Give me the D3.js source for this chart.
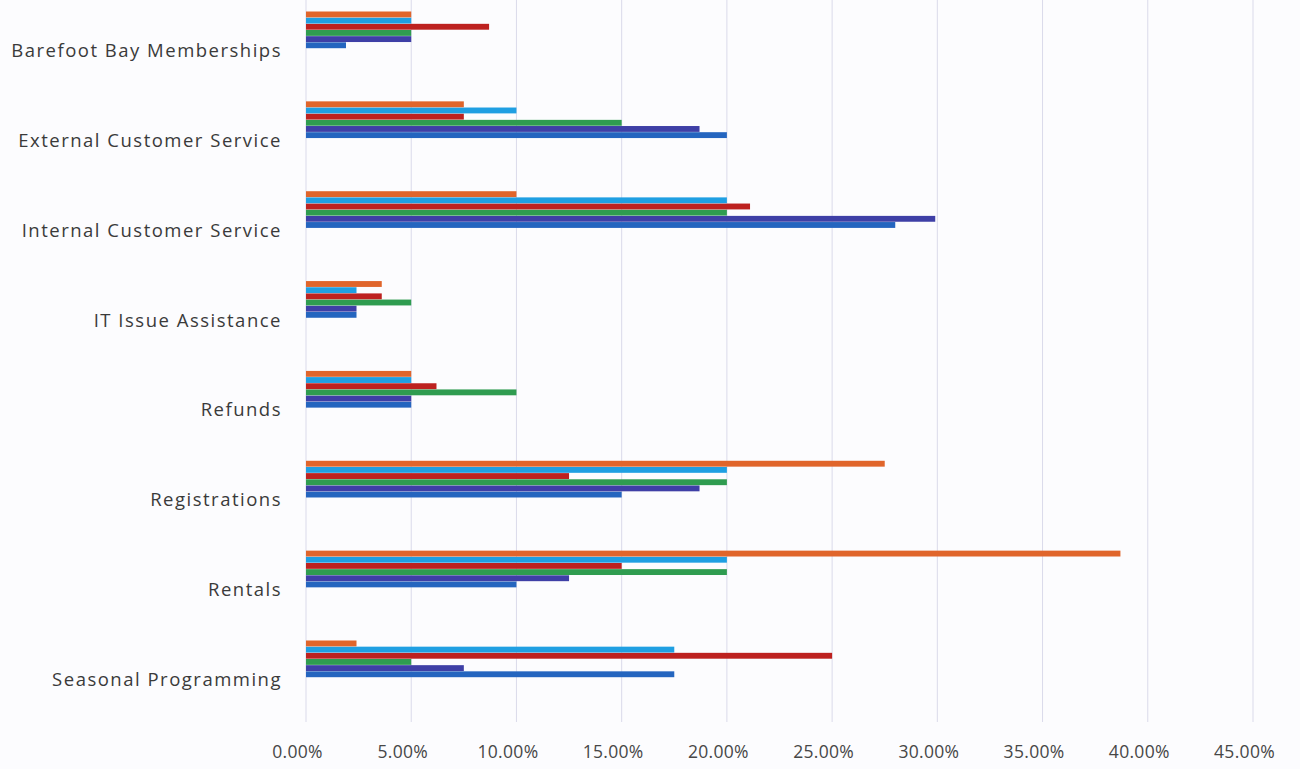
<!DOCTYPE html>
<html>
<head>
  <meta charset="utf-8">
  <title>Grouped horizontal bars</title>
  <script src="https://cdn.jsdelivr.net/npm/d3@7"></script>
  <style>
    body { margin: 0; background: #fcfcfe; }
    svg { display: block; }
    .cat text { font-family: "Open Sans", sans-serif; font-size: 18.5px; fill: #3a3a3a; letter-spacing: 1.5px; }
    .xaxis text { font-family: "Open Sans", sans-serif; font-size: 17.5px; fill: #474747; letter-spacing: 0.3px; }
    .grid line { stroke: #dadaea; stroke-width: 1; }
  </style>
</head>
<body>
  <svg id="chart" width="1300" height="769"></svg>
  <script>
    var categories = ['Barefoot Bay Memberships', 'External Customer Service', 'Internal Customer Service',
      'IT Issue Assistance', 'Refunds', 'Registrations', 'Rentals', 'Seasonal Programming'];

    // series 1 is drawn at the bottom of each group (Excel style)
    var seriesNames = ['Series 1', 'Series 2', 'Series 3', 'Series 4', 'Series 5', 'Series 6'];
    var seriesColors = ['#2465bf', '#3e3fa6', '#2f9c50', '#bd211f', '#1f9fe2', '#e0652b'];

    // values in percent, one array per series, in category order
    var s1 = [1.9, 20, 28, 2.4, 5, 15, 10, 17.5];
    var s2 = [5, 18.7, 29.9, 2.4, 5, 18.7, 12.5, 7.5];
    var s3 = [5, 15, 20, 5, 10, 20, 20, 5];
    var s4 = [8.7, 7.5, 21.1, 3.6, 6.2, 12.5, 15, 25];
    var s5 = [5, 10, 20, 2.4, 5, 20, 20, 17.5];
    var s6 = [5, 7.5, 10, 3.6, 5, 27.5, 38.7, 2.4];
    var seriesValues = [s1, s2, s3, s4, s5, s6];

    var xTicks = [0, 5, 10, 15, 20, 25, 30, 35, 40, 45];

    var svg = d3.select('#chart');

    var x = d3.scaleLinear().domain([0, 45]).range([306, 1253]);
    var y = d3.scalePoint().domain(categories).range([30, 659]);
    // position of each series inside a group, top = last series
    var inner = d3.scaleBand().domain(d3.range(6).reverse()).range([-18.5, 18.5]).padding(0);

    // gridlines
    svg.append('g').attr('class', 'grid')
      .selectAll('line')
      .data(xTicks)
      .enter()
      .append('line')
      .attr('x1', d => x(d)).attr('x2', d => x(d))
      .attr('y1', 0).attr('y2', 722);

    // bars
    var rows = [];
    seriesValues.forEach(function (vals, si) {
      vals.forEach(function (v, ci) {
        rows.push({ s: si, cat: categories[ci], value: v });
      });
    });

    svg.append('g')
      .selectAll('rect')
      .data(rows)
      .enter()
      .append('rect')
      .attr('x', x(0))
      .attr('y', d => y(d.cat) + inner(d.s))
      .attr('width', d => x(d.value) - x(0))
      .attr('height', inner.bandwidth() - 0.3)
      .attr('fill', d => seriesColors[d.s]);

    // category labels
    svg.append('g').attr('class', 'cat')
      .selectAll('text')
      .data(categories)
      .enter()
      .append('text')
      .attr('x', 282)
      .attr('y', d => y(d) + 27)
      .attr('text-anchor', 'end')
      .text(d => d);

    // x axis
    var xAxis = d3.axisBottom(x)
      .tickValues(xTicks)
      .tickSize(0)
      .tickPadding(0)
      .tickFormat(d => d.toFixed(2) + '%');

    svg.append('g').attr('class', 'xaxis')
      .attr('transform', 'translate(-9,746)')
      .call(xAxis)
      .call(g => g.select('.domain').remove());
  </script>
</body>
</html>
